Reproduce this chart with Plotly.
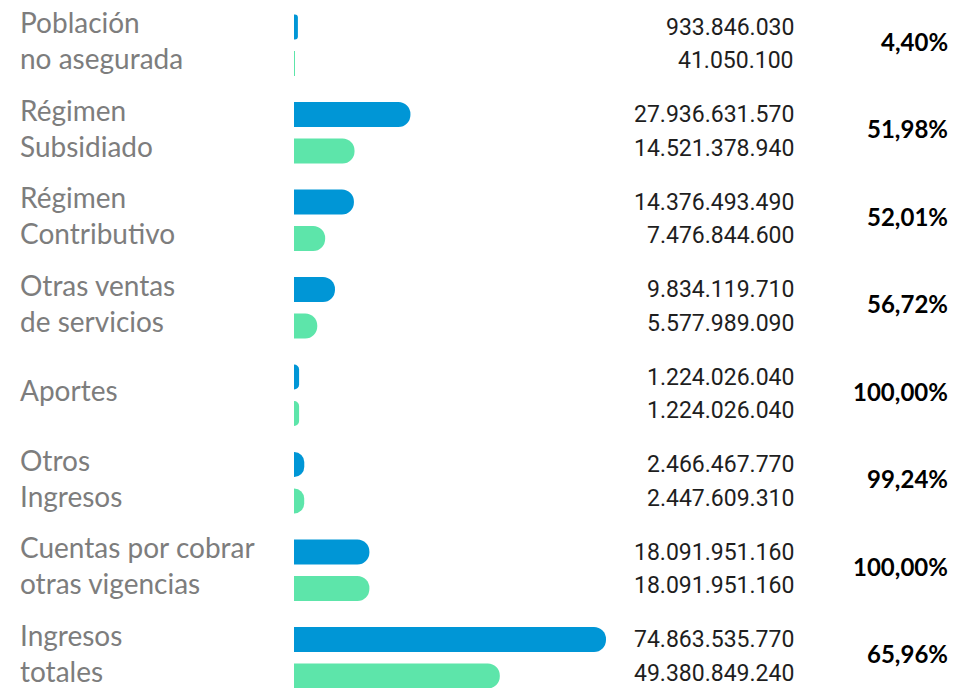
import plotly.graph_objects as go

# Ingresos por concepto: valor reconocido (azul) y valor recaudado (verde)
conceptos = [
    "Población\nno asegurada",
    "Régimen\nSubsidiado",
    "Régimen\nContributivo",
    "Otras ventas\nde servicios",
    "Aportes",
    "Otros\nIngresos",
    "Cuentas por cobrar\notras vigencias",
    "Ingresos\ntotales",
]
reconocido = [
    933846030,
    27936631570,
    14376493490,
    9834119710,
    1224026040,
    2466467770,
    18091951160,
    74863535770,
]
recaudado = [
    41050100,
    14521378940,
    7476844600,
    5577989090,
    1224026040,
    2447609310,
    18091951160,
    49380849240,
]

BLUE = "rgb(0,150,214)"
GREEN = "rgb(93,229,170)"
LABEL_GRAY = "#7d7d7d"

W, H = 953, 688
GROUP_STEP = 87.5      # vertical distance between concept groups (px)
PAIR_GAP = 36.5        # distance between the two bars of a group (px)
BAR_T = 25             # bar thickness (px)
TOP = 27               # centre of the first bar from the top (px)
X0_PX = 294            # pixel column of the zero line
MAX_PX = 312           # pixel length of the largest bar

def fmt_miles(v):
    return f"{v:,}".replace(",", ".")

def fmt_pct(p):
    return f"{p:.2f}".replace(".", ",") + "%"

n = len(conceptos)
y_blue = [i * GROUP_STEP for i in range(n)]
y_green = [y + PAIR_GAP for y in y_blue]

scale = MAX_PX / max(reconocido)           # px per peso
x_range = [-X0_PX / scale, (W - X0_PX) / scale]
y_range = [H - TOP, -TOP]

fig = go.Figure()
fig.add_bar(
    y=y_blue, x=reconocido, orientation="h", width=BAR_T,
    marker=dict(color=BLUE, cornerradius="50%", line=dict(width=0)),
    hovertemplate="%{x:,.0f}<extra>Reconocido</extra>",
)
fig.add_bar(
    y=y_green, x=recaudado, orientation="h", width=BAR_T,
    marker=dict(color=GREEN, cornerradius="50%", line=dict(width=0)),
    hovertemplate="%{x:,.0f}<extra>Recaudado</extra>",
)

annotations = []
for i, (name, rec, cob) in enumerate(zip(conceptos, reconocido, recaudado)):
    gy = y_blue[i]
    annotations.append(dict(
        x=18 / W, xref="paper", y=gy + 13, yref="y",
        text=name.replace("\n", "<br>"),
        xanchor="left", yanchor="middle", align="left", showarrow=False,
        font=dict(family="Lato, sans-serif", size=28, color=LABEL_GRAY),
    ))
    annotations.append(dict(
        x=796 / W, xref="paper", y=gy, yref="y", text=fmt_miles(rec),
        xanchor="right", yanchor="middle", showarrow=False,
        font=dict(family="Roboto, sans-serif", size=23, color="#1e1e1e"),
    ))
    annotations.append(dict(
        x=796 / W, xref="paper", y=gy + PAIR_GAP - 3, yref="y", text=fmt_miles(cob),
        xanchor="right", yanchor="middle", showarrow=False,
        font=dict(family="Roboto, sans-serif", size=23, color="#1e1e1e"),
    ))
    annotations.append(dict(
        x=950 / W, xref="paper", y=gy + 14, yref="y", text=fmt_pct(cob / rec * 100),
        xanchor="right", yanchor="middle", showarrow=False,
        font=dict(family="Lato, sans-serif", size=24, color="#000000", weight="bold"),
    ))

fig.update_layout(
    width=W, height=H,
    margin=dict(l=0, r=0, t=0, b=0),
    barmode="overlay",
    showlegend=False,
    paper_bgcolor="white",
    plot_bgcolor="white",
    xaxis=dict(range=x_range, visible=False, fixedrange=True),
    yaxis=dict(range=y_range, visible=False, fixedrange=True),
    annotations=annotations,
)

fig.write_html("out.html")
